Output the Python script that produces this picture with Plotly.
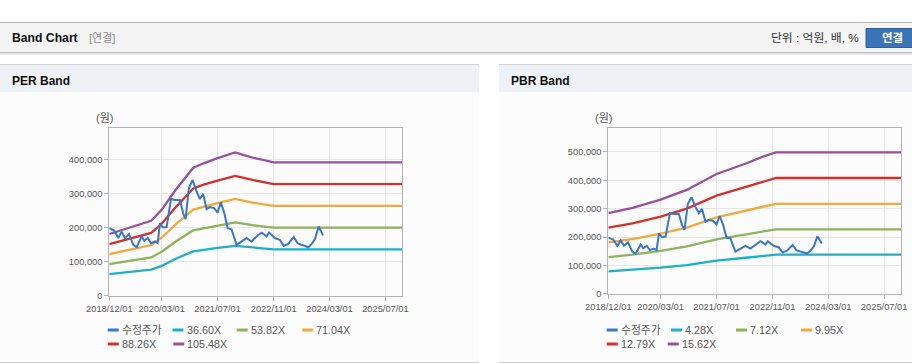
import plotly.graph_objects as go

# ---------------- data ----------------
price_dates = [
    "2018-12-01", "2019-01-13", "2019-02-17", "2019-03-19", "2019-04-17", "2019-05-21",
    "2019-06-28", "2019-07-27", "2019-09-09", "2019-10-01", "2019-10-31", "2019-11-29",
    "2020-01-02", "2020-01-26", "2020-02-15", "2020-03-09", "2020-04-13", "2020-05-21",
    "2020-06-24", "2020-08-07", "2020-09-04", "2020-09-25", "2020-10-24", "2020-11-25",
    "2020-12-30", "2021-01-28", "2021-02-25", "2021-03-27", "2021-04-25", "2021-06-01",
    "2021-07-01", "2021-07-29", "2021-08-27", "2021-09-26", "2021-10-30", "2021-12-13",
    "2022-02-08", "2022-03-10", "2022-04-22", "2022-06-19", "2022-07-20", "2022-08-31",
    "2022-09-22", "2022-11-11", "2022-12-24", "2023-01-28", "2023-03-07", "2023-04-25",
    "2023-05-28", "2023-07-15", "2023-08-30", "2023-09-28", "2023-10-28", "2023-11-28",
    "2023-12-15", "2024-01-05",
]
price_values = [
    198000, 191000, 169000, 188000, 169000, 181000,
    149000, 142000, 174000, 161000, 169000, 154000,
    159000, 154000, 213000, 201000, 201000, 284000,
    281000, 281000, 242000, 225000, 316000, 340000,
    306000, 284000, 299000, 254000, 260000, 257000,
    244000, 274000, 244000, 198000, 195000, 149000,
    162000, 169000, 159000, 178000, 185000, 174000,
    185000, 169000, 164000, 146000, 152000, 172000,
    154000, 147000, 142000, 152000, 167000, 203000,
    191000, 177000,
]

per_band_dates = ["2018-12-01", "2019-12-01", "2020-03-01", "2020-07-01", "2020-12-01",
                  "2021-03-01", "2021-07-01", "2021-12-01", "2022-05-01", "2022-11-01",
                  "2025-12-01"]
per_36_60 = [63000, 76000, 87000, 108000, 130000, 135000, 140000, 146000, 141000, 136000, 136000]
per_53_82 = [92000, 112000, 129000, 159000, 192000, 198000, 206000, 215000, 207000, 200000, 200000]
per_71_04 = [122000, 148000, 170000, 209000, 253000, 262000, 272000, 284000, 273000, 264000, 264000]
per_88_26 = [151000, 184000, 211000, 260000, 315000, 326000, 338000, 352000, 340000, 328000, 328000]
per_105_48 = [181000, 220000, 252000, 311000, 376000, 389000, 404000, 421000, 406000, 392000, 392000]

pbr_band_dates = ["2018-12-01", "2019-07-01", "2020-03-01", "2020-10-15", "2021-07-01",
                  "2022-03-15", "2022-08-15", "2022-12-01", "2025-12-01"]
pbr_4_28 = [79000, 84000, 92000, 101000, 117000, 127000, 134000, 138000, 138000]
pbr_7_12 = [129000, 138000, 151000, 167000, 192000, 209000, 221000, 227000, 227000]
pbr_9_95 = [181000, 193000, 212000, 233000, 269000, 292000, 308000, 317000, 317000]
pbr_12_79 = [233000, 248000, 272000, 300000, 346000, 376000, 396000, 408000, 408000]
pbr_15_62 = [284000, 303000, 332000, 366000, 422000, 459000, 484000, 498000, 498000]

per_names = ["36.60X", "53.82X", "71.04X", "88.26X", "105.48X"]
pbr_names = ["4.28X", "7.12X", "9.95X", "12.79X", "15.62X"]
price_name = "수정주가"

x_tick_vals = ["2018-12-01", "2020-03-01", "2021-07-01", "2022-11-01", "2024-03-01", "2025-07-01"]
x_tick_text = ["2018/12/01", "2020/03/01", "2021/07/01", "2022/11/01", "2024/03/01", "2025/07/01"]
per_y_ticks = [0, 100000, 200000, 300000, 400000]
pbr_y_ticks = [0, 100000, 200000, 300000, 400000, 500000]

# ---------------- style ----------------
W, H = 912, 364
band_colors = ["#1eb0c6", "#8fb35b", "#f2a93b", "#d3312c", "#97519d"]
price_color = "#3a77c8"
FONT = "Liberation Sans, Noto Sans CJK KR, sans-serif"


def px(x):
    return x / W


def py(y):
    return 1 - y / H


fig = go.Figure()

per_bands = [per_36_60, per_53_82, per_71_04, per_88_26, per_105_48]
pbr_bands = [pbr_4_28, pbr_7_12, pbr_9_95, pbr_12_79, pbr_15_62]

for vals, name, col in zip(per_bands, per_names, band_colors):
    fig.add_trace(go.Scatter(x=per_band_dates, y=vals, name=name, mode="lines",
                             line=dict(color=col, width=2.3), xaxis="x", yaxis="y",
                             showlegend=False))
fig.add_trace(go.Scatter(x=price_dates, y=price_values, name=price_name, mode="lines",
                         line=dict(color=price_color, width=2), xaxis="x", yaxis="y",
                         showlegend=False))

for vals, name, col in zip(pbr_bands, pbr_names, band_colors):
    fig.add_trace(go.Scatter(x=pbr_band_dates, y=vals, name=name, mode="lines",
                             line=dict(color=col, width=2.3), xaxis="x2", yaxis="y2",
                             showlegend=False))
fig.add_trace(go.Scatter(x=price_dates, y=price_values, name=price_name, mode="lines",
                         line=dict(color=price_color, width=2), xaxis="x2", yaxis="y2",
                         showlegend=False))

axis_common = dict(showline=True, mirror=True, linecolor="#b4b4b4", linewidth=1,
                   showgrid=True, gridcolor="#e6e6e6", gridwidth=1, zeroline=False,
                   ticks="outside", ticklen=4, tickcolor="#b4b4b4", automargin=False,
                   tickfont=dict(family=FONT, size=9.3, color="#555555"))

x_range = ["2018-12-01", "2025-11-25"]

fig.update_layout(
    width=W, height=H, autosize=False, margin=dict(l=0, r=0, t=0, b=0, pad=0),
    paper_bgcolor="#ffffff", plot_bgcolor="#ffffff", showlegend=False,
    xaxis=dict(domain=[px(109.3), px(402.3)], type="date", range=x_range,
               tickvals=x_tick_vals, ticktext=x_tick_text, anchor="y", **axis_common),
    yaxis=dict(domain=[py(295.5), py(128.3)], range=[0, 492000], tickvals=per_y_ticks,
               tickformat=",d", anchor="x", **axis_common),
    xaxis2=dict(domain=[px(608.3), px(901)], type="date", range=x_range,
                tickvals=x_tick_vals, ticktext=x_tick_text, anchor="y2", **axis_common),
    yaxis2=dict(domain=[py(293.8), py(128.3)], range=[0, 583000], tickvals=pbr_y_ticks,
                tickformat=",d", anchor="x2", **axis_common),
)

shapes = []
annotations = []


def rect(x0, y0, x1, y1, fill, line=None):
    shapes.append(dict(type="rect", xref="paper", yref="paper", x0=px(x0), x1=px(x1),
                       y0=py(y1), y1=py(y0), fillcolor=fill, layer="below",
                       line=dict(width=1 if line else 0, color=line or fill)))


def hline(x0, x1, y, color, width=1, layer="below"):
    shapes.append(dict(type="line", xref="paper", yref="paper", x0=px(x0), x1=px(x1),
                       y0=py(y), y1=py(y), layer=layer, line=dict(color=color, width=width)))


def text(x, y, s, size=11, color="#333333", anchor="left", bold=False):
    annotations.append(dict(xref="paper", yref="paper", x=px(x), y=py(y),
                            text=("<b>%s</b>" % s) if bold else s, showarrow=False,
                            xanchor=anchor, yanchor="middle",
                            font=dict(family=FONT, size=size, color=color)))


# page header bar
hline(0, W, 22.5, "#b5b5b5")
rect(0, 23, W, 52, "#f4f4f4")
hline(0, W, 52.5, "#c4c4c4")
hline(0, W, 53.5, "#dcdcdc")
hline(0, W, 54.5, "#eeeeee")
text(10, 38.5, "Band Chart", size=12.2, color="#111111", bold=True)
text(87, 38.5, "[연결]", size=11, color="#8a8a8a")
text(861, 38.5, "단위 : 억원, 배, %", size=11.8, color="#333333", anchor="right")
rect(866, 28.5, 920, 47.5, "#3b74b6", line="#2d609f")
text(892, 38, "연결", size=11.5, color="#ffffff", anchor="center", bold=True)

# panels
for (x0, x1) in [(0, 479), (499, W)]:
    hline(x0, x1, 64.5, "#d6d6d6")
    rect(x0, 65, x1, 92, "#eef2f7")
    rect(x0, 92, x1, 362, "#fcfcfc")
    hline(x0, x1, 362.5, "#d0d0d0")

text(10, 80.5, "PER Band", size=12, color="#111111", bold=True)
text(509, 80.5, "PBR Band", size=12, color="#111111", bold=True)
text(104, 118, "(원)", size=11, color="#555555", anchor="center")
text(603, 118, "(원)", size=11, color="#555555", anchor="center")

# legends (drawn as line swatches + text)
legend_cols = [price_color] + band_colors


def legend(items, names):
    for (x, y), name, col in zip(items, names, legend_cols):
        shapes.append(dict(type="line", xref="paper", yref="paper", x0=px(x), x1=px(x + 11),
                           y0=py(y), y1=py(y), layer="above",
                           line=dict(color=col, width=3)))
        text(x + 12, y, name, size=10.8, color="#555555")


legend([(107.7, 330), (172.5, 330), (236.7, 330), (302.3, 330), (107.7, 344), (173.3, 344)],
       [price_name] + per_names)
legend([(606.7, 330), (671.0, 330), (736.0, 330), (801.0, 330), (606.7, 344), (667.7, 344)],
       [price_name] + pbr_names)

fig.update_layout(shapes=shapes, annotations=annotations)
fig.write_html(
    "out.html",
    config={"displayModeBar": False},
    post_script="document.body.style.margin='0';document.body.style.overflow='hidden';",
)
